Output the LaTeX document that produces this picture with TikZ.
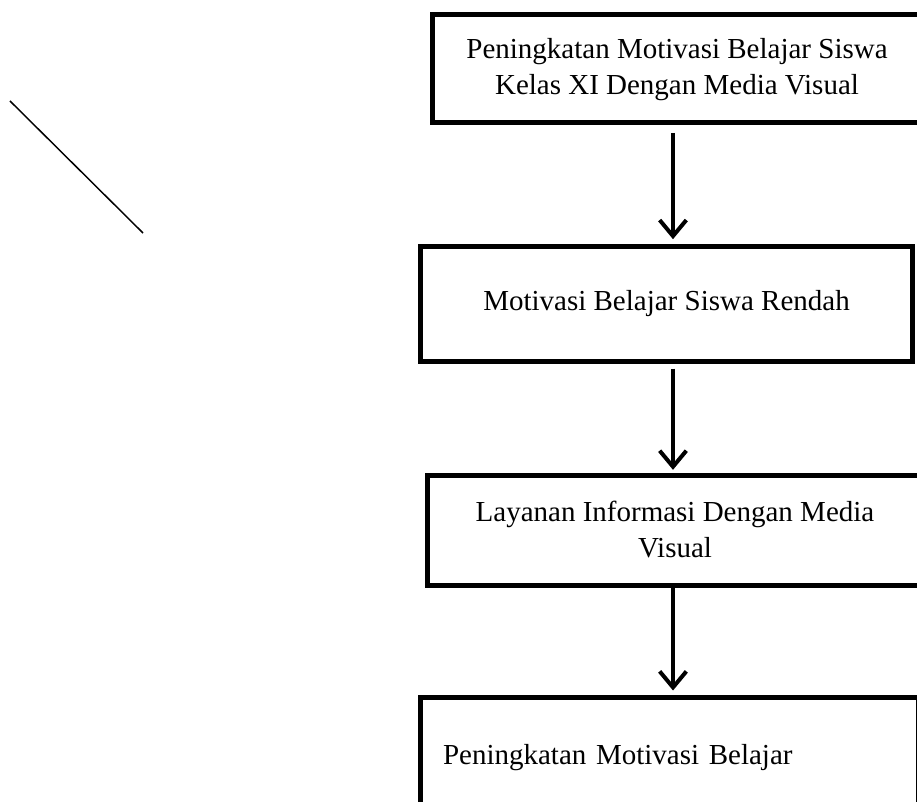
\documentclass[tikz,border=0pt]{standalone}
\usepackage{fontspec}
\setmainfont{Liberation Serif}
\usepackage{tikz}
\usetikzlibrary{positioning,calc,arrows.meta}

\begin{document}
\begin{tikzpicture}[x=0.75pt,y=-0.75pt,
    box/.style={draw,rectangle,line width=3.75pt,align=center,
        font=\fontsize{21.75}{27}\selectfont},
    arr/.style={line width=3pt,-{Straight Barb[length=12pt,width=20pt]}}]
    \clip (0,0) rectangle (917,802);

    % Stray line
    \coordinate (s1) at (10,101);
    \coordinate (s2) at (143,233);
    \draw[line width=1.1pt] (s1) -- (s2);

    % Boxes
    \node[box,minimum width=391.5pt,minimum height=81pt] (goal) at (693,68.5) {};
    \node[align=center,font=\fontsize{21.75}{27}\selectfont] (goaltext) at (677,70)
        {Peningkatan Motivasi Belajar Siswa\\Kelas XI Dengan Media Visual};
    \node[box,minimum width=369.4pt,minimum height=85.5pt] (low) at (666.5,304)
        {Motivasi Belajar Siswa Rendah};
    \node[box,minimum width=371.25pt,minimum height=82.5pt] (service) at (675,530)
        {Layanan Informasi Dengan Media\\Visual};
    \node[box,minimum width=373.5pt,minimum height=90.75pt,
        align=left,text width=339pt,inner xsep=17.25pt] (result) at (669,757.5)
        {Peningkatan Motivasi Belajar};

    % Arrows
    \coordinate (axis) at (673,0);
    \draw[arr,shorten <=6pt,shorten >=4pt] (goal.south -| axis) -- (low.north -| axis);
    \draw[arr,shorten <=3.75pt,shorten >=2pt] (low.south -| axis) -- (service.north -| axis);
    \draw[arr,shorten >=3pt] (service.south -| axis) -- (result.north -| axis);
\end{tikzpicture}
\end{document}
